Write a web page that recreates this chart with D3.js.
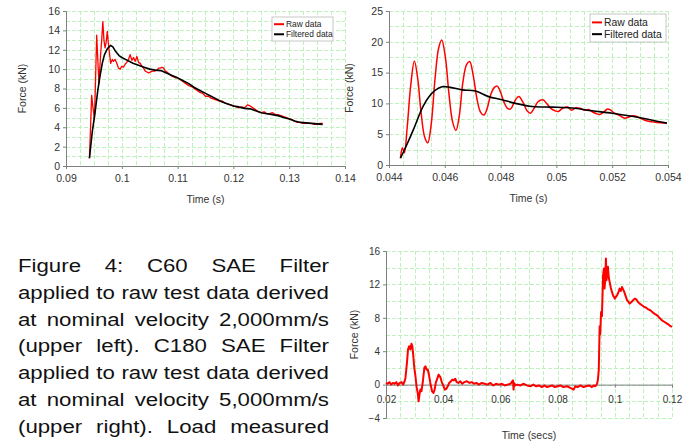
<!DOCTYPE html>
<html>
<head>
<meta charset="utf-8">
<script src="https://cdn.jsdelivr.net/npm/d3@7"></script>
<style>
  body { margin: 0; background: #fff; }
  svg { display: block; font-family: Arial, "Liberation Sans", sans-serif; }
  .axis path, .axis line { stroke: #808080; }
  .axis text { fill: #333; }
</style>
</head>
<body>
<svg id="chart" width="694" height="446"></svg>
<script>
// ---- upper left: C60 filter, 2000 mm/s ----
const ulTime = [0.0942,0.0944,0.0946,0.0948,0.0951,0.0953,0.0955,0.0957,0.0959,0.0962,0.0964,0.0966,0.0968,0.0970,0.0972,0.0974,0.0976,0.0978,0.0980,0.0983,0.0985,0.0988,0.0991,0.0994,0.0997,0.1000,0.1003,0.1006,0.1009,0.1012,0.1015,0.1018,0.1021,0.1024,0.1027,0.1030,0.1033,0.1036,0.1039,0.1042,0.1045,0.1048,0.1051,0.1055,0.1059,0.1063,0.1066,0.1069,0.1072,0.1075,0.1078,0.1081,0.1085,0.1089,0.1093,0.1097,0.1100,0.1105,0.1110,0.1115,0.1120,0.1125,0.1130,0.1135,0.1140,0.1145,0.1150,0.1155,0.1160,0.1165,0.1170,0.1175,0.1180,0.1185,0.1190,0.1195,0.1200,0.1205,0.1210,0.1215,0.1220,0.1225,0.1230,0.1235,0.1240,0.1245,0.1250,0.1255,0.1260,0.1265,0.1270,0.1275,0.1280,0.1285,0.1290,0.1295,0.1300,0.1305,0.1310,0.1315,0.1320,0.1325,0.1330,0.1335,0.1340,0.1345,0.1350,0.1355,0.1360];
const ulRaw = [0.8,4.0,7.3,6.2,4.8,9.0,13.5,11.0,8.5,11.5,13.0,14.9,13.0,12.2,12.8,13.9,12.6,11.6,10.6,11.0,10.8,11.0,10.6,10.1,10.0,10.3,10.2,10.5,10.7,11.0,11.5,10.9,11.2,10.8,11.3,10.7,10.6,10.3,10.1,9.8,9.7,9.6,9.7,9.8,9.8,9.9,10.1,10.1,10.2,10.1,9.8,9.7,9.5,9.3,9.2,9.1,9.1,8.9,8.7,8.5,8.3,8.2,8.0,7.8,7.6,7.5,7.2,7.2,7.0,6.9,6.8,6.7,6.7,6.5,6.4,6.3,6.2,6.1,6.0,6.1,6.0,6.3,6.2,6.0,5.8,5.6,5.5,5.6,5.4,5.4,5.5,5.3,5.3,5.2,5.1,5.0,4.9,4.8,4.6,4.5,4.5,4.4,4.4,4.4,4.4,4.3,4.3,4.4,4.4];
const ulFiltTime = [0.0942,0.0947,0.0952,0.0957,0.0961,0.0965,0.0969,0.0974,0.0980,0.0984,0.0988,0.0995,0.1000,0.1010,0.1020,0.1030,0.1040,0.1050,0.1060,0.1070,0.1080,0.1090,0.1100,0.1110,0.1120,0.1130,0.1140,0.1150,0.1160,0.1170,0.1180,0.1190,0.1200,0.1210,0.1220,0.1230,0.1240,0.1250,0.1260,0.1270,0.1280,0.1290,0.1300,0.1310,0.1320,0.1330,0.1340,0.1350,0.1360];
const ulFilt = [0.8,3.5,5.5,7.8,9.3,10.6,11.5,12.1,12.45,12.3,11.9,11.4,11.2,10.9,10.6,10.4,10.2,10.0,9.9,9.85,9.6,9.35,9.1,8.8,8.5,8.1,7.8,7.5,7.2,6.9,6.6,6.4,6.2,6.1,5.95,5.9,5.7,5.5,5.4,5.3,5.2,5.0,4.85,4.65,4.5,4.45,4.4,4.35,4.3];
const ulXTicks = [0.09,0.10,0.11,0.12,0.13,0.14];
const ulYTicks = [0,2,4,6,8,10,12,14,16];

// ---- upper right: C180 filter, 5000 mm/s ----
const urTime = [0.04441,0.04448,0.04455,0.04465,0.04478,0.04491,0.04503,0.04515,0.04528,0.04539,0.04551,0.04565,0.04578,0.04589,0.04602,0.04615,0.04628,0.04640,0.04652,0.04665,0.04678,0.04689,0.04702,0.04715,0.04728,0.04740,0.04752,0.04765,0.04778,0.04788,0.04800,0.04812,0.04825,0.04836,0.04850,0.04865,0.04880,0.04895,0.04907,0.04920,0.04935,0.04951,0.04965,0.04980,0.04995,0.05007,0.05022,0.05040,0.05055,0.05070,0.05085,0.05100,0.05115,0.05130,0.05145,0.05156,0.05170,0.05183,0.05192,0.05205,0.05220,0.05235,0.05246,0.05260,0.05275,0.05288,0.05300,0.05315,0.05330,0.05345,0.05360,0.05375,0.05395];
const urRaw = [1.1,2.8,2.0,6.0,13.0,16.9,14.0,8.5,4.5,3.6,6.5,14.0,19.0,20.3,17.5,11.5,7.0,5.6,8.0,13.5,16.3,16.8,14.5,10.8,8.6,8.1,9.2,11.5,12.6,12.8,11.8,10.2,9.2,9.1,10.3,11.1,10.2,8.8,8.4,9.2,10.3,10.6,10.0,9.2,8.8,8.7,9.2,9.4,8.9,9.3,9.2,8.9,9.0,8.6,8.3,8.2,8.6,9.1,9.0,8.5,8.2,7.8,7.6,7.8,8.0,7.9,7.6,7.3,7.1,7.0,6.9,6.85,6.8];
const urFiltTime = [0.04441,0.04463,0.04487,0.04511,0.04523,0.04542,0.04565,0.04590,0.04620,0.04662,0.04710,0.04757,0.04805,0.04853,0.04913,0.04984,0.05056,0.05128,0.05200,0.05271,0.05319,0.05360,0.05396];
const urFilt = [1.1,3.2,5.7,8.4,9.6,11.0,12.1,12.7,12.6,12.2,12.0,11.1,10.6,10.0,9.5,9.4,9.25,8.8,8.4,7.9,7.5,7.1,6.8];
const urXTicks = [0.044,0.046,0.048,0.050,0.052,0.054];
const urYTicks = [0,5,10,15,20,25];

// ---- bottom: full raw trace ----
const btTime = [0.0200,0.0206,0.0212,0.0218,0.0224,0.0230,0.0236,0.0242,0.0248,0.0254,0.0260,0.0265,0.0268,0.0273,0.0277,0.0281,0.0285,0.0289,0.0292,0.0295,0.0299,0.0303,0.0307,0.0311,0.0314,0.0317,0.0320,0.0324,0.0329,0.0334,0.0338,0.0342,0.0346,0.0350,0.0355,0.0361,0.0366,0.0370,0.0374,0.0378,0.0384,0.0390,0.0395,0.0400,0.0406,0.0411,0.0416,0.0421,0.0427,0.0432,0.0437,0.0442,0.0447,0.0453,0.0460,0.0467,0.0474,0.0483,0.0492,0.0500,0.0508,0.0516,0.0525,0.0535,0.0545,0.0555,0.0565,0.0575,0.0585,0.0595,0.0605,0.0615,0.0625,0.0635,0.0644,0.0646,0.0648,0.0652,0.0660,0.0670,0.0680,0.0693,0.0705,0.0715,0.0725,0.0735,0.0745,0.0755,0.0763,0.0772,0.0781,0.0790,0.0800,0.0810,0.0820,0.0833,0.0845,0.0856,0.0862,0.0870,0.0880,0.0890,0.0900,0.0910,0.0920,0.0926,0.0932,0.0938,0.0941,0.0944,0.0947,0.0949,0.0952,0.0955,0.0957,0.0959,0.0962,0.0964,0.0966,0.0969,0.0971,0.0973,0.0976,0.0979,0.0982,0.0986,0.0990,0.0995,0.1000,0.1004,0.1008,0.1012,0.1017,0.1021,0.1025,0.1029,0.1033,0.1038,0.1043,0.1048,0.1052,0.1058,0.1064,0.1070,0.1075,0.1081,0.1087,0.1095,0.1103,0.1110,0.1117,0.1124,0.1131,0.1138,0.1148,0.1156,0.1165,0.1174,0.1183,0.1191,0.1200];
const btRaw = [0.2,0.1,0.3,0.0,0.2,0.1,0.3,-0.1,0.2,0.3,0.0,0.4,0.8,2.5,4.2,4.6,4.2,4.9,4.6,3.6,2.0,1.0,-0.3,-1.0,-2.0,-1.2,-0.6,-0.8,0.4,2.0,2.2,1.8,1.8,1.2,0.2,-0.8,-1.0,-0.6,0.2,0.6,1.2,0.9,0.3,-0.1,-0.6,-0.5,-0.2,0.2,0.4,0.6,0.5,0.7,0.3,0.2,0.4,0.1,0.3,0.4,0.2,0.3,0.1,0.2,0.0,0.2,0.1,0.0,0.2,-0.1,0.1,0.0,0.1,-0.1,0.0,0.1,0.5,-0.6,0.2,-0.1,0.0,-0.1,0.1,-0.1,-0.2,0.0,-0.2,-0.1,-0.3,-0.1,-0.3,-0.2,-0.1,-0.3,-0.2,-0.1,-0.3,-0.2,-0.4,-0.6,-0.2,-0.3,-0.1,-0.3,-0.2,-0.1,-0.3,-0.1,-0.2,0.1,0.6,1.8,7.0,6.0,8.7,8.2,10.5,13.1,13.9,11.5,12.3,15.1,12.5,13.1,14.1,12.8,12.3,11.6,11.1,10.6,10.3,10.5,10.7,11.0,11.5,11.2,11.7,11.4,11.1,10.6,10.1,9.9,9.7,9.9,10.1,10.3,10.2,9.9,9.7,9.5,9.3,9.2,9.0,8.9,8.7,8.5,8.3,8.0,7.7,7.5,7.3,7.1,6.9];
const btXTicks = [0.02,0.04,0.06,0.08,0.10,0.12];
const btYTicks = [-4,0,4,8,12,16];

const captionLines = [
  "Figure 4: C60 SAE Filter",
  "applied to raw test data derived",
  "at nominal velocity 2,000mm/s",
  "(upper left). C180 SAE Filter",
  "applied to raw test data derived",
  "at nominal velocity 5,000mm/s",
  "(upper right). Load measured"
];

const svg = d3.select("#chart");
const fmt = d => String(+d.toFixed(4));

function drawPanel(p) {
  const x = d3.scaleLinear().domain(p.xDomain).range([p.left, p.right]);
  const y = d3.scaleLinear().domain(p.yDomain).range([p.bottom, p.top]);
  const g = svg.append("g");

  // dashed green grid, major + minor
  const grid = g.append("g")
    .attr("stroke", "#bdf2bd").attr("stroke-width", 1)
    .attr("stroke-dasharray", "4,2").attr("fill", "none");
  d3.range(p.xDomain[0], p.xDomain[1] + p.xMinor / 2, p.xMinor).forEach(v => {
    grid.append("line")
      .attr("x1", Math.round(x(v)) + 0.5).attr("x2", Math.round(x(v)) + 0.5)
      .attr("y1", p.top).attr("y2", p.bottom);
  });
  d3.range(p.yDomain[0], p.yDomain[1] + p.yMinor / 2, p.yMinor).forEach(v => {
    grid.append("line")
      .attr("x1", p.left).attr("x2", p.right)
      .attr("y1", Math.round(y(v)) + 0.5).attr("y2", Math.round(y(v)) + 0.5);
  });

  const xAxisY = p.xAtZero ? y(0) : p.bottom;
  g.append("g").attr("class", "axis")
    .attr("transform", `translate(0,${xAxisY})`)
    .call(d3.axisBottom(x).tickValues(p.xTicks).tickFormat(fmt).tickSizeOuter(0).tickSize(3).tickPadding(p.xPad))
    .style("font-size", p.tickFont + "px");
  g.append("g").attr("class", "axis")
    .attr("transform", `translate(${p.left},0)`)
    .call(d3.axisLeft(y).tickValues(p.yTicks).tickSizeOuter(0).tickSize(3).tickPadding(3))
    .style("font-size", p.tickFont + "px");
  g.selectAll(".axis text").attr("font-family", null);

  const line = (xs, ys) => d3.line()
    .x((d, i) => x(xs[i])).y(d => y(d))
    .curve(p.curve || d3.curveLinear)(ys);

  p.series.forEach(s => {
    g.append("path")
      .attr("d", line(s.t, s.v))
      .attr("fill", "none").attr("stroke", s.color)
      .attr("stroke-width", s.width).attr("stroke-linejoin", "round");
  });

  g.append("text")
    .attr("transform", `translate(${p.yLabelX},${(p.top + p.bottom) / 2}) rotate(-90)`)
    .attr("text-anchor", "middle").attr("font-size", p.labelFont).attr("fill", "#333")
    .text("Force (kN)");
  g.append("text")
    .attr("x", (p.left + p.right) / 2).attr("y", p.xLabelY)
    .attr("text-anchor", "middle").attr("font-size", p.labelFont).attr("fill", "#333")
    .text(p.xLabel);

  if (p.legend) {
    const L = p.legend;
    const lg = g.append("g");
    lg.append("rect").attr("x", L.x).attr("y", L.y).attr("width", L.w).attr("height", L.h)
      .attr("fill", "#fff").attr("stroke", "#c8c8c8");
    p.series.forEach((s, i) => {
      const cy = L.y + L.h * (i === 0 ? 0.3 : 0.72);
      lg.append("line").attr("x1", L.x + 2).attr("x2", L.x + 2 + L.sw)
        .attr("y1", cy).attr("y2", cy).attr("stroke", s.color).attr("stroke-width", 2);
      lg.append("text").attr("x", L.x + 4 + L.sw).attr("y", cy).attr("dy", "0.35em")
        .attr("font-size", L.font).attr("fill", "#222").text(s.name);
    });
  }
}

drawPanel({
  left: 66, right: 345, top: 11, bottom: 166,
  xDomain: [0.09, 0.14], yDomain: [0, 16], xMinor: 0.0025, yMinor: 1,
  xTicks: ulXTicks, yTicks: ulYTicks, tickFont: 10.5, labelFont: 10.5, xPad: 6,
  yLabelX: 26, xLabelY: 203, xLabel: "Time (s)",
  series: [
    { name: "Raw data", t: ulTime, v: ulRaw, color: "#ff0000", width: 1.3 },
    { name: "Filtered data", t: ulFiltTime, v: ulFilt, color: "#000", width: 1.6 }
  ],
  curve: d3.curveLinear,
  legend: { x: 272, y: 17, w: 61, h: 24, sw: 10, font: 8.4 }
});

drawPanel({
  left: 389, right: 668, top: 11, bottom: 165,
  xDomain: [0.044, 0.054], yDomain: [0, 25], xMinor: 0.0005, yMinor: 2.5,
  xTicks: urXTicks, yTicks: urYTicks, tickFont: 10.5, labelFont: 10.5, xPad: 6,
  yLabelX: 353, xLabelY: 202, xLabel: "Time (s)",
  series: [
    { name: "Raw data", t: urTime, v: urRaw, color: "#ff0000", width: 1.5 },
    { name: "Filtered data", t: urFiltTime, v: urFilt, color: "#000", width: 1.6 }
  ],
  curve: d3.curveCatmullRom,
  legend: { x: 590, y: 14, w: 76, h: 28, sw: 10, font: 10.4 }
});

drawPanel({
  left: 386, right: 672, top: 251, bottom: 418,
  xDomain: [0.02, 0.12], yDomain: [-4, 16], xMinor: 0.005, yMinor: 2,
  xTicks: btXTicks, yTicks: btYTicks, tickFont: 10, labelFont: 10.5, xPad: 8, xAtZero: true,
  yLabelX: 358, xLabelY: 439, xLabel: "Time (secs)",
  series: [
    { name: "Raw data", t: btTime, v: btRaw, color: "#ff0000", width: 2 }
  ],
  curve: d3.curveLinear
});

// justified caption text (the original scan is stretched sideways, hence sx)
const capLeft = 18, capRight = 329, capTop = 272, capStep = 26.8, capSx = 1.27;
captionLines.forEach((ln, i) => {
  const words = ln.split(" ");
  const tg = svg.append("g")
    .attr("transform", `translate(${capLeft},${capTop + i * capStep}) scale(${capSx},1)`)
    .attr("font-size", 17.5).attr("fill", "#111");
  const nodes = words.map(w => tg.append("text").text(w));
  const widths = nodes.map(n => n.node().getComputedTextLength());
  const avail = (capRight - capLeft) / capSx;
  const gap = (avail - d3.sum(widths)) / (words.length - 1);
  let cx = 0;
  nodes.forEach((n, k) => { n.attr("x", cx); cx += widths[k] + gap; });
});
</script>
</body>
</html>
